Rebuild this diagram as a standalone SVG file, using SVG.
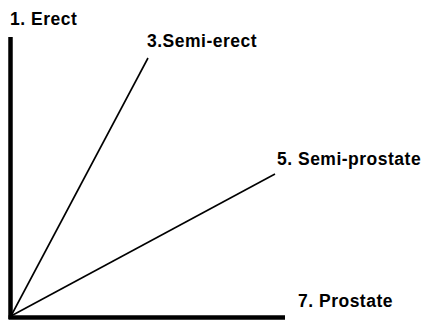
<svg xmlns="http://www.w3.org/2000/svg" width="425" height="320" viewBox="0 0 425 320">
<style>
.lbl{font-family:"Liberation Sans",Arial,sans-serif;font-weight:bold;font-size:17.5px;letter-spacing:0.5px;fill:#000}
.axis{stroke:#000;stroke-width:4.5;fill:none}
.ray{stroke:#000;stroke-width:1.6;fill:none}
</style>
<rect width="425" height="320" fill="#fff"/>
<g id="connectors">
<line class="axis" x1="10.5" y1="37" x2="10.5" y2="319"/>
<line class="axis" x1="8.5" y1="317.5" x2="285" y2="317.5"/>
<line class="ray" x1="11" y1="316" x2="148" y2="58"/>
<line class="ray" x1="11" y1="316" x2="275" y2="174"/>
</g>
<g id="erect"><text class="lbl" x="10" y="25">1. Erect</text></g>
<g id="semi-erect"><text class="lbl" x="147" y="47">3.Semi-erect</text></g>
<g id="semi-prostate"><text class="lbl" x="277" y="165">5. Semi-prostate</text></g>
<g id="prostate"><text class="lbl" x="298" y="307">7. Prostate</text></g>
</svg>
